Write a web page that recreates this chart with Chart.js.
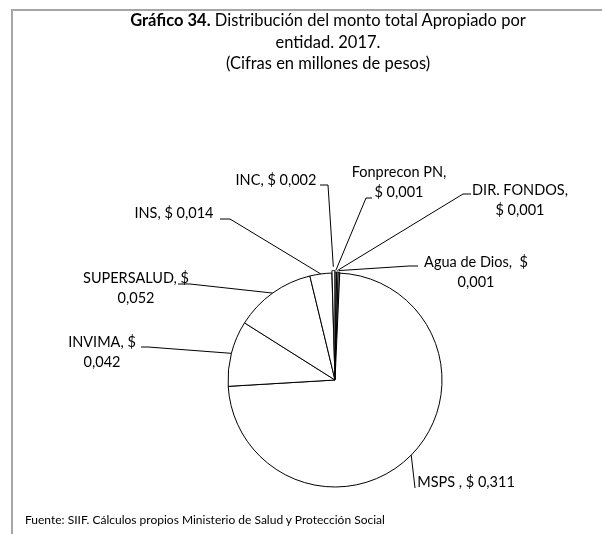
<!DOCTYPE html>
<html>
<head>
<meta charset="utf-8">
<script src="https://cdn.jsdelivr.net/npm/chart.js@4.4.0/dist/chart.umd.min.js"></script>
<style>
  html, body { margin: 0; padding: 0; background: #fff; }
  #wrap { position: relative; width: 602px; height: 534px; overflow: hidden; font-family: Lato, sans-serif; color: #000; }
  #frame { position: absolute; left: 11px; top: 9px; right: -5px; bottom: -5px; border-top: 2px solid #a6a6a6; border-left: 2px solid #a6a6a6; }
  #title { position: absolute; left: 0; top: 10px; width: 656px; text-align: center; font-size: 16.5px; line-height: 21.5px; }
  #source { position: absolute; left: 25px; top: 512px; font-size: 12px; }
  canvas { position: absolute; left: 0; top: 0; }
</style>
</head>
<body>
<div id="wrap">
  <div id="frame"></div>
  <canvas id="pieChart" width="602" height="534"></canvas>
  <div id="title"><b>Gráfico 34.</b> Distribución del monto total Apropiado por<br>entidad. 2017.<br>(Cifras en millones de pesos)</div>
  <div id="source">Fuente: SIIF. Cálculos propios Ministerio de Salud y Protección Social</div>
</div>
<script>
// datos (millones de pesos), en el orden en que se dibujan desde las 12 en punto
const entidades = ['Fonprecon PN', 'DIR. FONDOS', 'Agua de Dios', 'MSPS', 'INVIMA', 'SUPERSALUD', 'INS', 'INC'];
const montos = [0.001, 0.001, 0.001, 0.311, 0.042, 0.052, 0.014, 0.002];
const destacado = [2, 2, 2, 0, 0, 0, 0, 5];

// posicion de las etiquetas: centro del texto, primera linea, corte y codo de la guia
const etiquetas = [
  { cx: 399, y: 172, corte: 'coma',  codo: [366, 198], fin: [372, 198] },
  { cx: 520, y: 190, corte: 'coma',  codo: [463, 194], fin: [471, 194] },
  { cx: 476, y: 262, corte: 'peso',  codo: [409, 266], fin: [418, 266] },
  { cx: 466, y: 482, corte: 'no',    codo: [415, 488], fin: [415, 488] },
  { cx: 102, y: 342, corte: 'peso',  codo: [148, 347], fin: [141, 347] },
  { cx: 136, y: 278, corte: 'peso',  codo: [190, 284], fin: [178, 284] },
  { cx: 174, y: 213, corte: 'no',    codo: [230, 219], fin: [220, 219] },
  { cx: 276, y: 180, corte: 'no',    codo: [328, 185], fin: [320, 185] }
];

function formato(v) {
  return v.toFixed(3).replace('.', ',');
}

function lineasEtiqueta(i) {
  const nombre = entidades[i] === 'MSPS' ? 'MSPS ' : entidades[i];
  const valor = formato(montos[i]);
  const corte = etiquetas[i].corte;
  if (corte === 'coma') return [nombre + ',', '$ ' + valor];
  if (corte === 'peso') {
    const sep = entidades[i] === 'Agua de Dios' ? ',  $' : ', $';
    return [nombre + sep, valor];
  }
  return [nombre + ', $ ' + valor];
}

const etiquetasPlugin = {
  id: 'etiquetasPlugin',
  afterDraw(chart) {
    const ctx = chart.ctx;
    const meta = chart.getDatasetMeta(0);
    ctx.save();
    ctx.strokeStyle = '#000';
    ctx.lineWidth = 1;
    ctx.fillStyle = '#000';
    ctx.font = '14.5px Lato';
    ctx.textAlign = 'center';
    ctx.textBaseline = 'middle';
    meta.data.forEach(function(arc, i) {
      const p = arc.getProps(['x', 'y', 'startAngle', 'endAngle', 'outerRadius']);
      const mid = (p.startAngle + p.endAngle) / 2;
      const r = p.outerRadius + destacado[i] * 1.25;
      const ax = p.x + Math.cos(mid) * r;
      const ay = p.y + Math.sin(mid) * r;
      const e = etiquetas[i];
      ctx.beginPath();
      ctx.moveTo(ax, ay);
      ctx.lineTo(e.codo[0], e.codo[1]);
      ctx.lineTo(e.fin[0], e.fin[1]);
      ctx.stroke();
      lineasEtiqueta(i).forEach(function(t, k) {
        ctx.fillText(t, e.cx, e.y + k * 20);
      });
    });
    ctx.restore();
  }
};

const ctx = document.getElementById('pieChart').getContext('2d');
new Chart(ctx, {
  type: 'pie',
  data: {
    labels: entidades,
    datasets: [{
      data: montos,
      backgroundColor: '#ffffff',
      borderColor: '#000000',
      borderWidth: 1,
      offset: destacado,
      hoverOffset: 0
    }]
  },
  options: {
    responsive: false,
    animation: false,
    events: [],
    layout: { padding: { left: 225, right: 157, top: 270, bottom: 44 } },
    plugins: {
      legend: { display: false },
      tooltip: { enabled: false }
    }
  },
  plugins: [etiquetasPlugin]
});
</script>
</body>
</html>
